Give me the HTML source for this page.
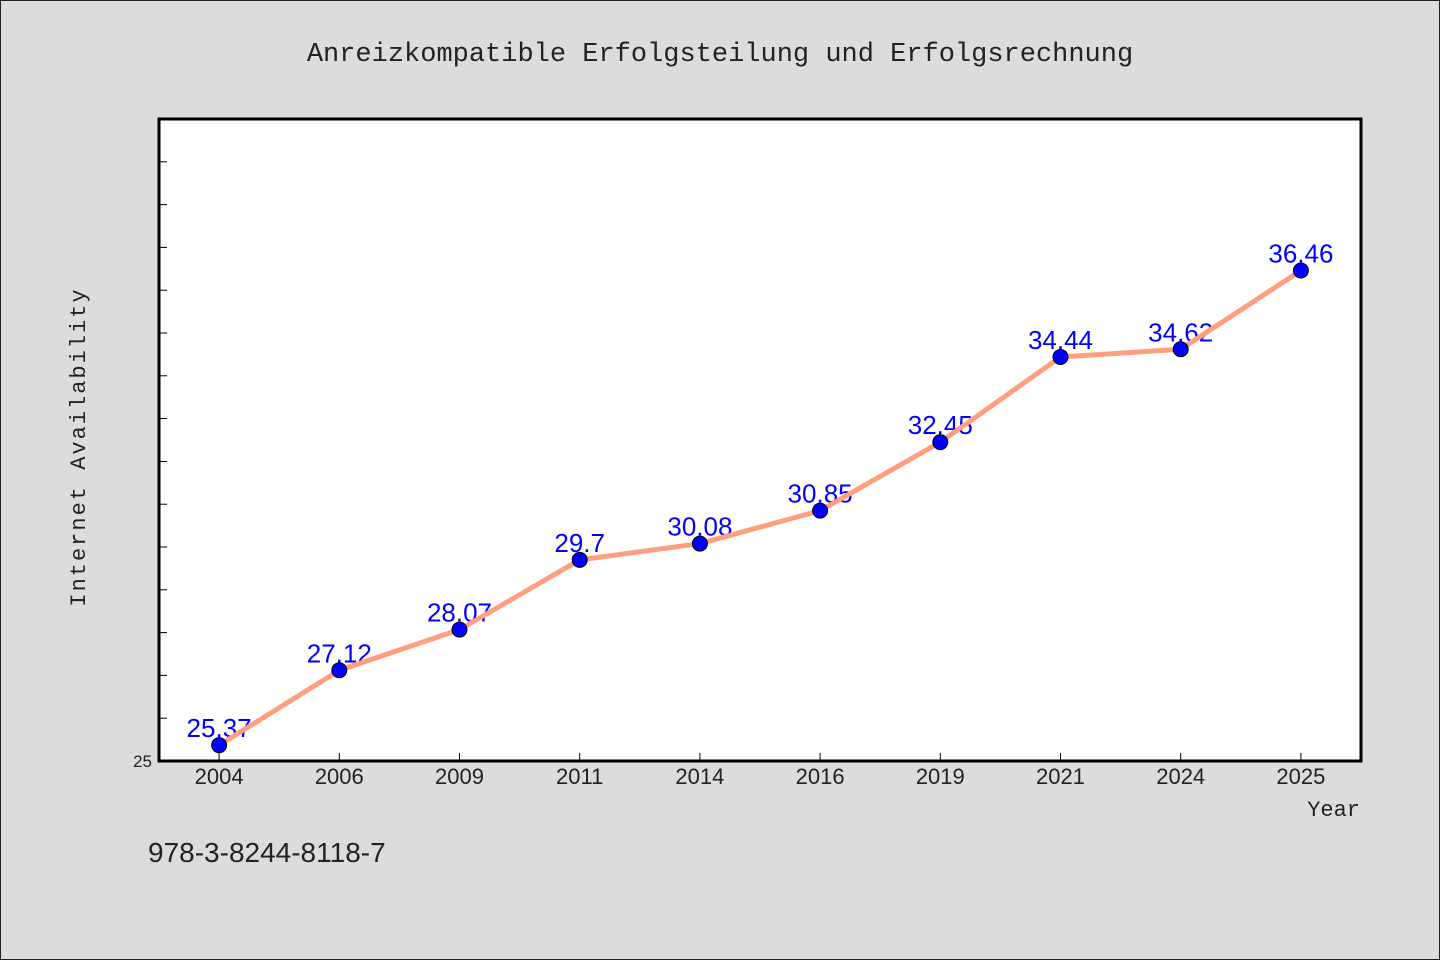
<!DOCTYPE html>
<html><head><meta charset="utf-8"><style>
body{margin:0;background:#dcdcdc;}
svg{display:block;font-family:"WenQuanYi Zen Hei","Liberation Sans",sans-serif;}
</style></head><body>
<svg id="chart" width="1440" height="960">
<rect x="0.5" y="0.5" width="1439" height="959" fill="#dcdcdc" stroke="#222"/>
<text x="720" y="61" text-anchor="middle" font-size="27" fill="#222" font-family="'Liberation Mono',monospace">Anreizkompatible Erfolgsteilung und Erfolgsrechnung</text>
<rect x="159" y="119" width="1202" height="642" fill="#fff"/>
<g id="yticks"></g><g id="xticks"></g>
<g id="labels"></g>
<g id="series"></g>
<rect x="159" y="119" width="1202" height="642" fill="none" stroke="#000" stroke-width="3"/>
<text x="85" y="447" text-anchor="middle" font-size="22" fill="#222" letter-spacing="2" transform="rotate(-90 85 447)" font-family="'Liberation Mono',monospace">Internet Availability</text>
<text x="1360" y="816" text-anchor="end" font-size="22" fill="#222" font-family="'Liberation Mono',monospace">Year</text>
<text x="148" y="862" font-size="28" fill="#222">978-3-8244-8118-7</text>
</svg>
<script>
const categories=["2004","2006","2009","2011","2014","2016","2019","2021","2024","2025"];
const values=[25.37,27.12,28.07,29.7,30.08,30.85,32.45,34.44,34.62,36.46];
const yMin=25,yMax=40;
const L=159,R=1361,T=119,B=761;
const NS="http://www.w3.org/2000/svg";
const bw=(R-L)/categories.length;
const xs=i=>L+bw*(i+0.5);
const ys=v=>B-(v-yMin)/(yMax-yMin)*(B-T);
function mk(tag,attrs,parent,txt){const e=document.createElementNS(NS,tag);for(const k in attrs)e.setAttribute(k,attrs[k]);if(txt!=null)e.textContent=txt;parent.appendChild(e);return e;}
const yt=document.getElementById('yticks'),xt=document.getElementById('xticks'),lb=document.getElementById('labels'),sr=document.getElementById('series');
for(let v=yMin+1;v<yMax;v++){const t=mk('line',{x1:L,x2:L+8,y1:ys(v),y2:ys(v),stroke:'#000','stroke-width':1},yt);

}
const y0=mk('text',{x:152,y:B+6,'text-anchor':'end','font-size':17,fill:'#222'},yt,String(yMin));


categories.forEach((c,i)=>{
const t=mk('line',{x1:xs(i),x2:xs(i),y1:B,y2:B-8,stroke:'#000','stroke-width':1},xt);


const l=mk('text',{x:xs(i),y:B+23,'text-anchor':'middle','font-size':22,fill:'#222'},xt,c);


const d=mk('text',{x:xs(i),y:ys(values[i])-8,'text-anchor':'middle','font-size':26,fill:'#0000ff'},lb,String(values[i]));


});
const line=mk('polyline',{points:values.map((v,i)=>xs(i)+','+ys(v)).join(' '),fill:'none',stroke:'#ff9f7f','stroke-width':5,'stroke-linejoin':'round'},sr);


values.forEach((v,i)=>{const p=mk('circle',{cx:xs(i),cy:ys(v),r:7.5,fill:'#0000ff',stroke:'#000','stroke-width':1},sr);

});
</script>
</body></html>
